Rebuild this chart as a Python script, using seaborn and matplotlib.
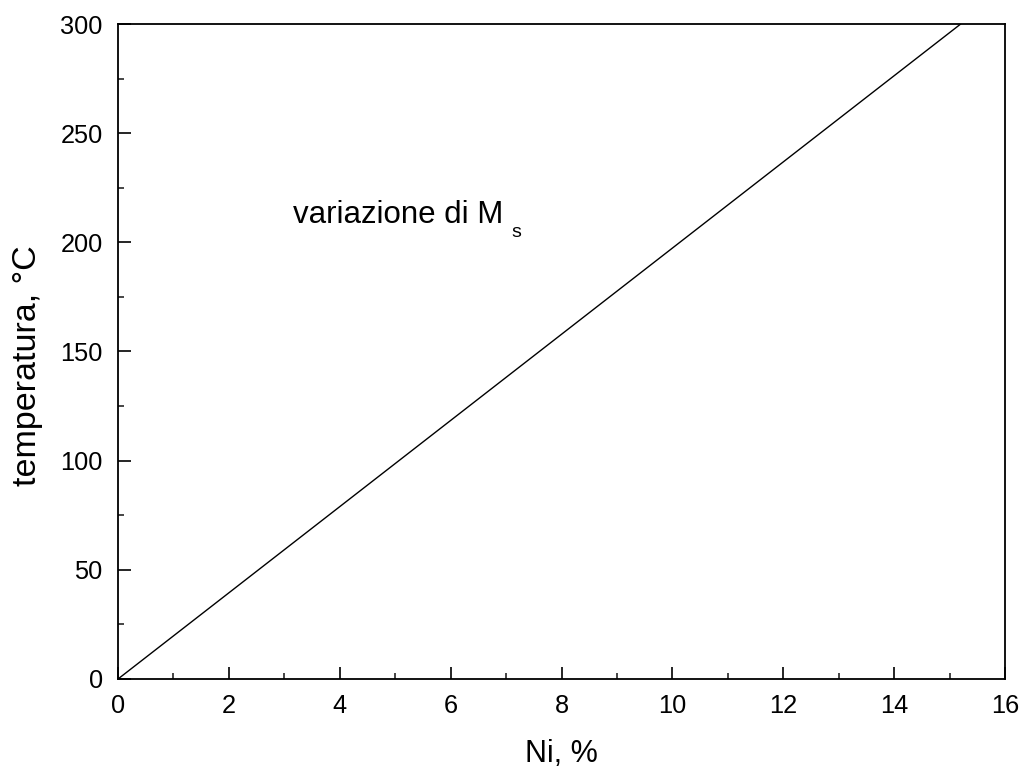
import matplotlib
matplotlib.use("Agg")
import matplotlib.pyplot as plt
import seaborn as sns
import pandas as pd
from matplotlib.ticker import MultipleLocator

# Ms start temperature as a function of nickel content
ni_pct = [0.0, 15.2]
temp_c = [0.0, 300.0]

sns.set_theme(style="white")
plt.rcParams["font.family"] = ["Liberation Sans", "DejaVu Sans"]

df = pd.DataFrame({"Ni": ni_pct, "T": temp_c})

fig = plt.figure(figsize=(10.22, 7.72), dpi=100)
ax = fig.add_axes([0.1155, 0.1205, 0.8679, 0.8484])

sns.lineplot(data=df, x="Ni", y="T", ax=ax, color="black", linewidth=1.0)

ax.set_xlim(0, 16)
ax.set_ylim(0, 300)
ax.xaxis.set_major_locator(MultipleLocator(2))
ax.xaxis.set_minor_locator(MultipleLocator(1))
ax.yaxis.set_major_locator(MultipleLocator(50))
ax.yaxis.set_minor_locator(MultipleLocator(25))

ax.tick_params(which="major", direction="in", length=9, width=1.2,
               labelsize=18.3, colors="black", pad=11,
               bottom=True, left=True, top=False, right=False)
ax.tick_params(which="minor", direction="in", length=4.5, width=1.2,
               bottom=True, left=True, top=False, right=False)

for s in ax.spines.values():
    s.set_visible(True)
    s.set_color("black")
    s.set_linewidth(1.3)

ax.set_xlabel("Ni, %", fontsize=22, labelpad=15, color="black")
ax.set_ylabel("temperatura, °C", fontsize=24.5, labelpad=12, color="black")
ax.yaxis.set_label_coords(-0.085, 0.479)

# curve label with a lowered subscript
ax.text(3.15, 209, "variazione di M", fontsize=22.5,
        color="black", va="baseline", ha="left")
ax.text(7.1, 202.5, "s", fontsize=14,
        color="black", va="baseline", ha="left")

fig.savefig("out.png", dpi=100)
